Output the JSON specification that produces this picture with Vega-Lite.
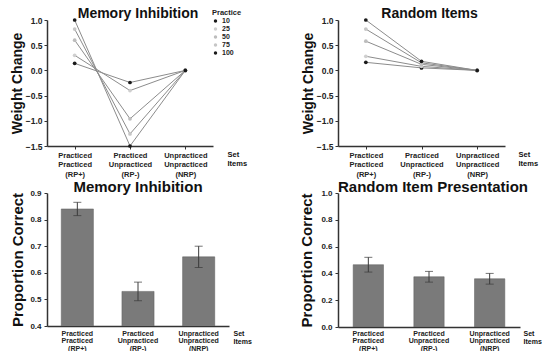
{
  "$schema": "https://vega.github.io/schema/vega-lite/v6.json",
  "background": "white",
  "padding": {"left": 9, "top": 7, "right": 0, "bottom": 0},
  "config": {
    "font": "Liberation Sans",
    "view": {"stroke": null},
    "axis": {
      "grid": false,
      "domainColor": "#333333",
      "domainWidth": 1.5,
      "tickColor": "#333333",
      "tickSize": 3,
      "labelColor": "#222222",
      "labelFontWeight": "bold",
      "labelOverlap": false,
      "titleColor": "#111111",
      "titleFontWeight": "bold"
    },
    "title": {"fontSize": 14, "fontWeight": "bold", "color": "#111111", "frame": "group", "anchor": "middle"},
    "legend": {
      "titleFontSize": 7.5,
      "titleFontWeight": "bold",
      "titleColor": "#222222",
      "labelFontSize": 7,
      "labelFontWeight": "bold",
      "labelColor": "#222222",
      "symbolSize": 12,
      "rowPadding": 0,
      "titlePadding": 1,
      "padding": 0,
      "labelOffset": 3,
      "symbolType": "circle"
    }
  },
  "datasets": {
    "mi_lines": [
      {"Practice": 10, "Set": "Practiced Practiced (RP+)", "Change": 0.14},
      {"Practice": 10, "Set": "Practiced Unpracticed (RP-)", "Change": -0.24},
      {"Practice": 10, "Set": "Unpracticed Unpracticed (NRP)", "Change": 0.0},
      {"Practice": 25, "Set": "Practiced Practiced (RP+)", "Change": 0.30},
      {"Practice": 25, "Set": "Practiced Unpracticed (RP-)", "Change": -0.40},
      {"Practice": 25, "Set": "Unpracticed Unpracticed (NRP)", "Change": 0.0},
      {"Practice": 50, "Set": "Practiced Practiced (RP+)", "Change": 0.60},
      {"Practice": 50, "Set": "Practiced Unpracticed (RP-)", "Change": -0.96},
      {"Practice": 50, "Set": "Unpracticed Unpracticed (NRP)", "Change": 0.0},
      {"Practice": 75, "Set": "Practiced Practiced (RP+)", "Change": 0.82},
      {"Practice": 75, "Set": "Practiced Unpracticed (RP-)", "Change": -1.26},
      {"Practice": 75, "Set": "Unpracticed Unpracticed (NRP)", "Change": 0.0},
      {"Practice": 100, "Set": "Practiced Practiced (RP+)", "Change": 1.0},
      {"Practice": 100, "Set": "Practiced Unpracticed (RP-)", "Change": -1.5},
      {"Practice": 100, "Set": "Unpracticed Unpracticed (NRP)", "Change": 0.0}
    ],
    "ri_lines": [
      {"Practice": 10, "Set": "Practiced Practiced (RP+)", "Change": 0.16},
      {"Practice": 10, "Set": "Practiced Unpracticed (RP-)", "Change": 0.05},
      {"Practice": 10, "Set": "Unpracticed Unpracticed (NRP)", "Change": 0.0},
      {"Practice": 25, "Set": "Practiced Practiced (RP+)", "Change": 0.28},
      {"Practice": 25, "Set": "Practiced Unpracticed (RP-)", "Change": 0.08},
      {"Practice": 25, "Set": "Unpracticed Unpracticed (NRP)", "Change": 0.0},
      {"Practice": 50, "Set": "Practiced Practiced (RP+)", "Change": 0.58},
      {"Practice": 50, "Set": "Practiced Unpracticed (RP-)", "Change": 0.12},
      {"Practice": 50, "Set": "Unpracticed Unpracticed (NRP)", "Change": 0.0},
      {"Practice": 75, "Set": "Practiced Practiced (RP+)", "Change": 0.82},
      {"Practice": 75, "Set": "Practiced Unpracticed (RP-)", "Change": 0.15},
      {"Practice": 75, "Set": "Unpracticed Unpracticed (NRP)", "Change": 0.0},
      {"Practice": 100, "Set": "Practiced Practiced (RP+)", "Change": 1.0},
      {"Practice": 100, "Set": "Practiced Unpracticed (RP-)", "Change": 0.18},
      {"Practice": 100, "Set": "Unpracticed Unpracticed (NRP)", "Change": 0.0}
    ],
    "mi_bars": [
      {"Set": "Practiced Practiced (RP+)", "Mean": 0.84, "Low": 0.815, "High": 0.865},
      {"Set": "Practiced Unpracticed (RP-)", "Mean": 0.53, "Low": 0.495, "High": 0.565},
      {"Set": "Unpracticed Unpracticed (NRP)", "Mean": 0.66, "Low": 0.62, "High": 0.70}
    ],
    "ri_bars": [
      {"Set": "Practiced Practiced (RP+)", "Mean": 0.465, "Low": 0.41, "High": 0.52},
      {"Set": "Practiced Unpracticed (RP-)", "Mean": 0.375, "Low": 0.335, "High": 0.415},
      {"Set": "Unpracticed Unpracticed (NRP)", "Mean": 0.36, "Low": 0.32, "High": 0.40}
    ]
  },
  "bounds": "flush",
  "columns": 2,
  "spacing": {"row": 47, "column": 109},
  "concat": [
    {
      "width": 166,
      "height": 126,
      "title": {"text": "Memory Inhibition", "dx": 8, "offset": -5},
      "data": {"name": "mi_lines"},
      "encoding": {
        "x": {
          "field": "Set", "type": "nominal",
          "sort": ["Practiced Practiced (RP+)", "Practiced Unpracticed (RP-)", "Unpracticed Unpracticed (NRP)"],
          "scale": {"type": "point", "padding": 0.5},
          "axis": {
            "title": ["Set", "Items"], "titleX": 180, "titleY": 4, "titleAlign": "left", "titleBaseline": "top",
            "titleFontSize": 7.5, "titleLineHeight": 9.5,
            "labelAngle": 0, "labelExpr": "split(datum.label, ' ')", "labelFontSize": 7.5,
            "labelLineHeight": 9.5, "labelPadding": 2
          }
        },
        "y": {
          "field": "Change", "type": "quantitative",
          "scale": {"domain": [-1.5, 1]},
          "axis": {
            "title": "Weight Change", "titleFontSize": 14, "titleX": -30, "titleBaseline": "middle",
            "values": [-1.5, -1, -0.5, 0, 0.5, 1], "format": ".1f", "labelFontSize": 8.5, "labelPadding": 2
          }
        }
      },
      "layer": [
        {"mark": {"type": "line", "color": "#8c8c8c", "strokeWidth": 1}, "encoding": {"detail": {"field": "Practice"}}},
        {
          "mark": {"type": "point", "filled": true, "size": 14, "opacity": 1},
          "encoding": {
            "color": {
              "field": "Practice", "type": "ordinal",
              "scale": {"domain": [10, 25, 50, 75, 100], "range": ["#1a1a1a", "#cfcfcf", "#bdbdbd", "#c6c6c6", "#1a1a1a"]},
              "legend": {"title": "Practice", "orient": "none", "legendX": 165, "legendY": -11}
            }
          }
        }
      ]
    },
    {
      "width": 167,
      "height": 126,
      "title": {"text": "Random Items", "dx": 8, "offset": -5},
      "data": {"name": "ri_lines"},
      "encoding": {
        "x": {
          "field": "Set", "type": "nominal",
          "sort": ["Practiced Practiced (RP+)", "Practiced Unpracticed (RP-)", "Unpracticed Unpracticed (NRP)"],
          "scale": {"type": "point", "padding": 0.5},
          "axis": {
            "title": ["Set", "Items"], "titleX": 180, "titleY": 4, "titleAlign": "left", "titleBaseline": "top",
            "titleFontSize": 7.5, "titleLineHeight": 9.5,
            "labelAngle": 0, "labelExpr": "split(datum.label, ' ')", "labelFontSize": 7.5,
            "labelLineHeight": 9.5, "labelPadding": 2
          }
        },
        "y": {
          "field": "Change", "type": "quantitative",
          "scale": {"domain": [-1.5, 1]},
          "axis": {
            "title": "Weight Change", "titleFontSize": 14, "titleX": -30, "titleBaseline": "middle",
            "values": [-1.5, -1, -0.5, 0, 0.5, 1], "format": ".1f", "labelFontSize": 8.5, "labelPadding": 2
          }
        }
      },
      "layer": [
        {"mark": {"type": "line", "color": "#8c8c8c", "strokeWidth": 1}, "encoding": {"detail": {"field": "Practice"}}},
        {
          "mark": {"type": "point", "filled": true, "size": 14, "opacity": 1},
          "encoding": {
            "color": {
              "field": "Practice", "type": "ordinal",
              "scale": {"domain": [10, 25, 50, 75, 100], "range": ["#1a1a1a", "#cfcfcf", "#bdbdbd", "#c6c6c6", "#1a1a1a"]},
              "legend": {"title": "Practice", "orient": "none", "legendX": 164, "legendY": -11}
            }
          }
        }
      ]
    },
    {
      "width": 182,
      "height": 133,
      "title": {"text": "Memory Inhibition", "fontSize": 15, "offset": -6},
      "data": {"name": "mi_bars"},
      "encoding": {
        "x": {
          "field": "Set", "type": "nominal",
          "sort": ["Practiced Practiced (RP+)", "Practiced Unpracticed (RP-)", "Unpracticed Unpracticed (NRP)"],
          "scale": {"paddingInner": 0.47, "paddingOuter": 0.235},
          "axis": {
            "title": ["Set", "Items"], "titleX": 186, "titleY": 3, "titleAlign": "left", "titleBaseline": "top",
            "titleFontSize": 7, "titleLineHeight": 8,
            "labelAngle": 0, "labelExpr": "split(datum.label, ' ')", "labelFontSize": 7,
            "labelLineHeight": 7.5, "labelPadding": 3, "ticks": false
          }
        }
      },
      "layer": [
        {
          "mark": {"type": "bar", "color": "#7a7a7a", "stroke": "#5e5e5e", "strokeWidth": 0.5, "clip": true},
          "encoding": {
            "y": {
              "field": "Mean", "type": "quantitative",
              "scale": {"domain": [0.4, 0.9]},
              "axis": {
                "title": "Proportion Correct", "titleFontSize": 15, "titleX": -30, "titleBaseline": "middle",
                "values": [0.4, 0.5, 0.6, 0.7, 0.8, 0.9], "format": ".1f", "labelFontSize": 8, "labelPadding": 3
              }
            }
          }
        },
        {
          "mark": {"type": "errorbar", "ticks": {"size": 8}, "color": "#3a3a3a"},
          "encoding": {
            "y": {
              "field": "Low", "type": "quantitative",
              "axis": {
                "title": "Proportion Correct", "titleFontSize": 15, "titleX": -30, "titleBaseline": "middle",
                "values": [0.4, 0.5, 0.6, 0.7, 0.8, 0.9], "format": ".1f", "labelFontSize": 8, "labelPadding": 3
              }
            },
            "y2": {"field": "High"}
          }
        }
      ]
    },
    {
      "width": 182,
      "height": 134,
      "title": {"text": "Random Item Presentation", "fontSize": 15, "offset": -6, "dx": 4},
      "data": {"name": "ri_bars"},
      "encoding": {
        "x": {
          "field": "Set", "type": "nominal",
          "sort": ["Practiced Practiced (RP+)", "Practiced Unpracticed (RP-)", "Unpracticed Unpracticed (NRP)"],
          "scale": {"paddingInner": 0.5, "paddingOuter": 0.25},
          "axis": {
            "title": ["Set", "Items"], "titleX": 185, "titleY": 2, "titleAlign": "left", "titleBaseline": "top",
            "titleFontSize": 7, "titleLineHeight": 8,
            "labelAngle": 0, "labelExpr": "split(datum.label, ' ')", "labelFontSize": 7,
            "labelLineHeight": 7.5, "labelPadding": 2, "ticks": false
          }
        }
      },
      "layer": [
        {
          "mark": {"type": "bar", "color": "#7a7a7a", "stroke": "#5e5e5e", "strokeWidth": 0.5, "clip": true},
          "encoding": {
            "y": {
              "field": "Mean", "type": "quantitative",
              "scale": {"domain": [0, 1]},
              "axis": {
                "title": "Proportion Correct", "titleFontSize": 15, "titleX": -32, "titleBaseline": "middle",
                "values": [0, 0.2, 0.4, 0.6, 0.8, 1.0], "format": ".1f", "labelFontSize": 8, "labelPadding": 3
              }
            }
          }
        },
        {
          "mark": {"type": "errorbar", "ticks": {"size": 8}, "color": "#3a3a3a"},
          "encoding": {
            "y": {
              "field": "Low", "type": "quantitative",
              "axis": {
                "title": "Proportion Correct", "titleFontSize": 15, "titleX": -32, "titleBaseline": "middle",
                "values": [0, 0.2, 0.4, 0.6, 0.8, 1.0], "format": ".1f", "labelFontSize": 8, "labelPadding": 3
              }
            },
            "y2": {"field": "High"}
          }
        }
      ]
    }
  ]
}
